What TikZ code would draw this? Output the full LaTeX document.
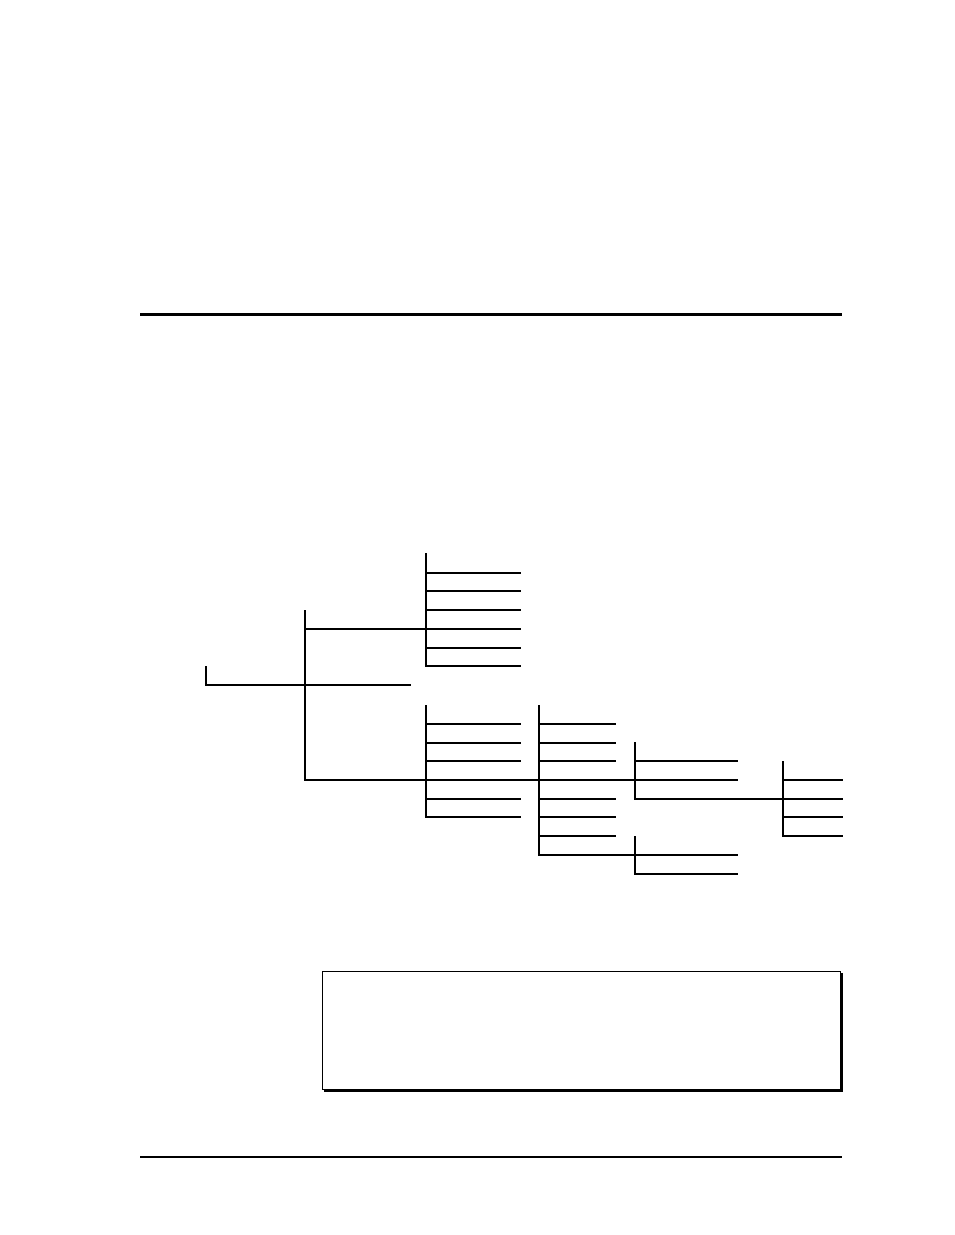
\documentclass[tikz,border=0pt]{standalone}
\begin{document}
\begin{tikzpicture}[x=1pt,y=-1pt,
  branch/.style={line width=1.2pt,line cap=rect},
  toprule/.style={line width=3pt},
  botrule/.style={line width=1.3pt},
  frame/.style={line width=1pt},
  shade/.style={line width=2.6pt}]
\useasboundingbox (0,0) rectangle (954,1235);
% page rules
\coordinate (tl) at (140,314); \coordinate (tr) at (842,314);
\draw[toprule] (tl) -- (tr);
\coordinate (bl) at (140,1157); \coordinate (br) at (842,1157);
\draw[botrule] (bl) -- (br);
% root
\coordinate (r0) at (206,667); \coordinate (r1) at (206,685); \coordinate (r2) at (410,685);
\draw[branch] (r0) -- (r1) -- (r2);
% level 1 spine
\coordinate (s0) at (305,611); \coordinate (s1) at (305,780);
\draw[branch] (s0) -- (s1);
\coordinate (a0) at (305,629); \coordinate (a1) at (426,629);
\draw[branch] (a0) -- (a1);
\coordinate (b0) at (305,780); \coordinate (b1) at (737,780);
\draw[branch] (b0) -- (b1);
% group 1
\coordinate (g1t) at (426,554); \coordinate (g1b) at (426,666);
\draw[branch] (g1t) -- (g1b);
\foreach \y in {573,591,610,629,648,666}{
  \coordinate (p) at (426,\y); \coordinate (q) at (520,\y);
  \draw[branch] (p) -- (q);}
% group 2
\coordinate (g2t) at (426,706); \coordinate (g2b) at (426,817);
\draw[branch] (g2t) -- (g2b);
\foreach \y in {724,743,761,799,817}{
  \coordinate (p) at (426,\y); \coordinate (q) at (520,\y);
  \draw[branch] (p) -- (q);}
% group 3
\coordinate (g3t) at (539,706); \coordinate (g3b) at (539,855);
\draw[branch] (g3t) -- (g3b);
\foreach \y in {724,743,761,799,817,836}{
  \coordinate (p) at (539,\y); \coordinate (q) at (615,\y);
  \draw[branch] (p) -- (q);}
\coordinate (c0) at (539,855); \coordinate (c1) at (737,855);
\draw[branch] (c0) -- (c1);
% group 4
\coordinate (g4t) at (635,743); \coordinate (g4b) at (635,799);
\draw[branch] (g4t) -- (g4b);
\coordinate (d0) at (635,761); \coordinate (d1) at (737,761);
\draw[branch] (d0) -- (d1);
\coordinate (e0) at (635,799); \coordinate (e1) at (842,799);
\draw[branch] (e0) -- (e1);
% group 5
\coordinate (g5t) at (783,762); \coordinate (g5b) at (783,836);
\draw[branch] (g5t) -- (g5b);
\foreach \y in {780,817,836}{
  \coordinate (p) at (783,\y); \coordinate (q) at (842,\y);
  \draw[branch] (p) -- (q);}
% group 6
\coordinate (g6t) at (635,837); \coordinate (g6b) at (635,874);
\draw[branch] (g6t) -- (g6b);
\coordinate (f1) at (737,874);
\draw[branch] (g6b) -- (f1);
% note box with shadow
\coordinate (n0) at (322,971); \coordinate (n1) at (840,1089);
\draw[frame] (n0) rectangle (n1);
\coordinate (sh0) at (842,973); \coordinate (sh1) at (842,1091); \coordinate (sh2) at (324,1091);
\draw[shade] (sh0) -- (sh1) -- (sh2);
\end{tikzpicture}
\end{document}
